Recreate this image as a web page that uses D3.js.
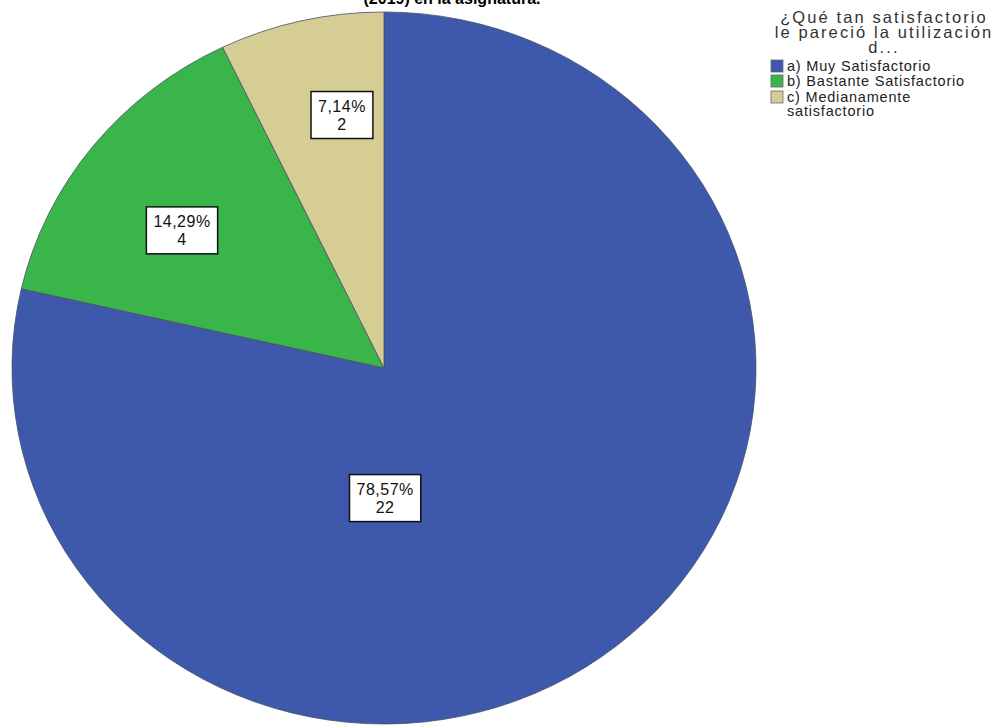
<!DOCTYPE html>
<html>
<head>
<meta charset="utf-8">
<script src="https://cdn.jsdelivr.net/npm/d3@7"></script>
<style>
  body { margin: 0; background: #fff; }
  svg { display: block; }
  text { font-family: Arial, "Liberation Sans", sans-serif; }
</style>
</head>
<body>
<svg id="chart" width="999" height="725"></svg>
<script>
// Survey answers and their counts
const categories = ["a) Muy Satisfactorio", "b) Bastante Satisfactorio", "c) Medianamente satisfactorio"];
const counts = [22, 4, 2];
const legendLines = [["a) Muy Satisfactorio"], ["b) Bastante Satisfactorio"], ["c) Medianamente", "satisfactorio"]];
const legendTitle = ["¿Qué tan satisfactorio", "le pareció la utilización", "d..."];
const chartTitle = "(2019) en la asignatura.";
const colors = ["#3E58AC", "#3AB54A", "#D6CD95"];

// Layout
const W = 999, H = 725;
const cx = 384, cy = 368, rx = 372, ry = 356;
// label box centres, as fractions of the horizontal / vertical radius
const labelSpots = [[0.003, 0.364], [-0.543, -0.388], [-0.113, -0.712]];

const svg = d3.select("#chart");
const total = d3.sum(counts);
const pct = v => (v / total * 100).toFixed(2).replace(".", ",") + "%";

// Title (only its lowest line shows at the top edge)
svg.append("text")
  .attr("x", 452).attr("y", 4)
  .attr("text-anchor", "middle")
  .attr("font-size", 16).attr("font-weight", "bold")
  .attr("fill", "#000")
  .text(chartTitle);

// Pie, drawn as a slightly flattened ellipse
const pie = d3.pie().sort(null).value(d => d);
const arcs = pie(counts);
const arc = d3.arc().innerRadius(0).outerRadius(rx);

const pieG = svg.append("g")
  .attr("transform", `translate(${cx},${cy}) scale(1,${ry / rx})`);

pieG.selectAll("path")
  .data(arcs)
  .join("path")
  .attr("d", arc)
  .attr("fill", (d, i) => colors[i])
  .attr("stroke", "#4a4f66")
  .attr("stroke-width", 0.8)
  .attr("vector-effect", "non-scaling-stroke");

// Value labels in white boxes
const labelG = svg.append("g");
arcs.forEach((d, i) => {
  const x = cx + labelSpots[i][0] * rx;
  const y = cy + labelSpots[i][1] * ry;
  const g = labelG.append("g").attr("transform", `translate(${x},${y})`);
  const rect = g.append("rect");
  const t = g.append("text")
    .attr("text-anchor", "middle")
    .attr("font-size", 16)
    .attr("letter-spacing", 0.5)
    .attr("fill", "#111");
  t.append("tspan").attr("x", 0).attr("y", -3).text(pct(d.value));
  t.append("tspan").attr("x", 0).attr("y", 15).text(d.value);
  const bb = t.node().getBBox();
  const w = bb.width + 14;
  rect.attr("x", -w / 2).attr("y", -23).attr("width", w).attr("height", 47)
    .attr("fill", "#fff").attr("stroke", "#111").attr("stroke-width", 1.5);
});

// Legend
const leg = svg.append("g");
leg.selectAll("text.lt")
  .data(legendTitle)
  .join("text")
  .attr("class", "lt")
  .attr("x", 884)
  .attr("y", (d, i) => 23 + i * 15)
  .attr("text-anchor", "middle")
  .attr("font-size", 16.5)
  .attr("letter-spacing", 2.1)
  .attr("fill", "#333")
  .text(d => d);

const itemY = [66, 81, 97];
categories.forEach((c, i) => {
  const y = itemY[i];
  leg.append("rect")
    .attr("x", 771).attr("y", y - 6)
    .attr("width", 12).attr("height", 12)
    .attr("fill", colors[i])
    .attr("stroke", "#667").attr("stroke-width", 0.8);
  const t = leg.append("text")
    .attr("x", 787).attr("y", y + 5)
    .attr("font-size", 14.5)
    .attr("letter-spacing", 0.8)
    .attr("fill", "#222");
  legendLines[i].forEach((line, j) => {
    t.append("tspan").attr("x", 787).attr("dy", j === 0 ? 0 : 14).text(line);
  });
});
</script>
</body>
</html>
